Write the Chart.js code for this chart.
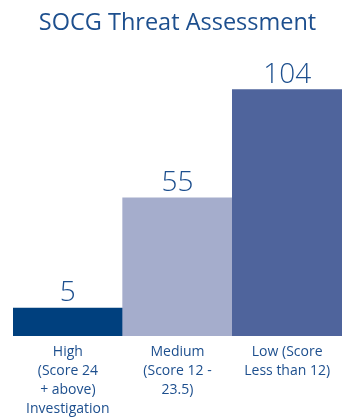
<!DOCTYPE html>
<html>
<head>
<meta charset="utf-8">
<script src="https://cdn.jsdelivr.net/npm/chart.js@4/dist/chart.umd.min.js"></script>
<style>
  html, body { margin: 0; padding: 0; background: #fff; }
  #wrap { width: 342px; height: 418px; }
</style>
</head>
<body>
<div id="wrap"><canvas id="threatChart" width="342" height="418"></canvas></div>
<script>
// chart data
const categories = [
  ['High', '(Score 24', '+ above)', 'Investigation'],
  ['Medium', '(Score 12 -', '23.5)'],
  ['Low (Score', 'Less than 12)'],
];
const counts = [5, 55, 104];
const barColors = ['#00407e', '#a5adcc', '#4f649c'];
const textColor = '#1d4f8e';
// value axis starts a little below zero, bars grow from the axis bottom
const axisMin = -7.6;
const axisMax = 120;

// draws the count above each bar
const valueLabels = {
  id: 'valueLabels',
  afterDatasetsDraw: function(chart) {
    const ctx = chart.ctx;
    const meta = chart.getDatasetMeta(0);
    ctx.save();
    ctx.font = '300 28px "Open Sans"';
    ctx.fillStyle = textColor;
    ctx.textAlign = 'center';
    ctx.textBaseline = 'alphabetic';
    meta.data.forEach(function(bar, i) {
      ctx.fillText(String(counts[i]), bar.x, bar.y - 7);
    });
    ctx.restore();
  },
};

new Chart(document.getElementById('threatChart'), {
  type: 'bar',
  data: {
    labels: categories,
    datasets: [{
      data: counts,
      base: axisMin,
      backgroundColor: barColors,
      borderWidth: 0,
      barPercentage: 1,
      categoryPercentage: 1,
    }],
  },
  options: {
    responsive: false,
    animation: false,
    layout: {
      // the x axis reserves a few pixels it never uses, give them back
      padding: {left: 13, right: 0, top: 0, bottom: -7},
    },
    plugins: {
      legend: {display: false},
      tooltip: {enabled: false},
      title: {
        display: true,
        text: 'SOCG Threat Assessment',
        fullSize: false,
        color: textColor,
        font: {family: 'Open Sans', size: 23.5, weight: '400'},
        padding: {top: 9, bottom: 17},
      },
    },
    scales: {
      x: {
        grid: {display: false, drawTicks: false},
        border: {display: false},
        ticks: {
          color: textColor,
          font: {family: 'Open Sans', size: 14, lineHeight: 1.34},
          padding: 7,
          maxRotation: 0,
          autoSkip: false,
        },
      },
      y: {
        display: false,
        min: axisMin,
        max: axisMax,
      },
    },
  },
  plugins: [valueLabels],
});
</script>
</body>
</html>
